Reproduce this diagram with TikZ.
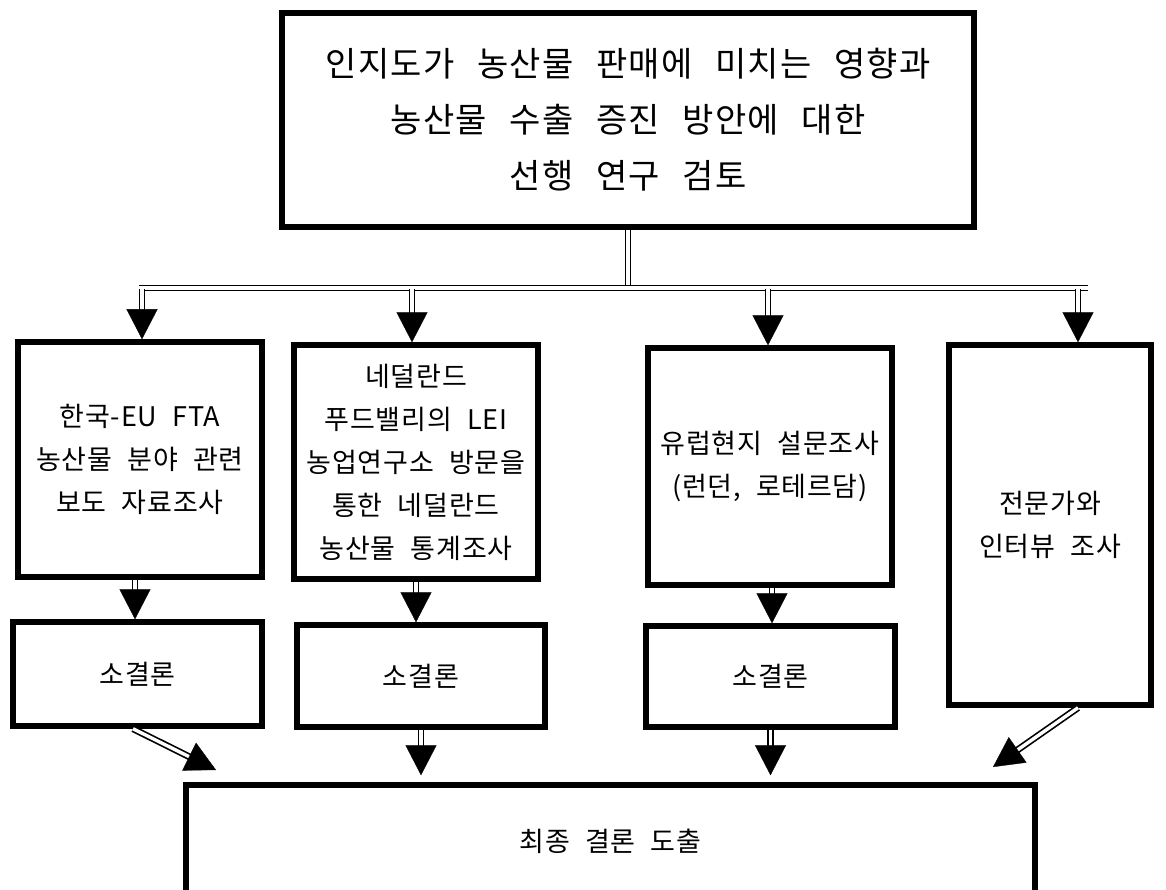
\documentclass[tikz,border=0pt]{standalone}
\usepackage{fontspec}
\usetikzlibrary{arrows.meta,calc}
\newfontfamily\krbox[WordSpace=2.2,LetterSpace=3]{Noto Sans CJK KR}
\newfontfamily\krtop[WordSpace=2.5,LetterSpace=4]{Noto Sans CJK KR}
\newcommand\boxfont{\krbox\fontsize{27}{43}\selectfont}
\newcommand\topfont{\krtop\fontsize{34}{56}\selectfont}
\tikzset{
  box/.style={draw=black, line width=5.5pt, align=center, inner sep=0pt, font=\boxfont},
  dbl/.style={draw=black, double=white, double distance=3.4pt, line width=1.7pt},
  headonly/.style={draw=white, line width=0.3pt, -{Triangle[width=31pt,length=30pt,color=black,fill=black]}},
}
\newcommand\darrow[2]{\draw[dbl, shorten >=27pt] #1 -- #2; \draw[headonly] #1 -- #2;}
\begin{document}
\begin{tikzpicture}[x=1pt,y=-1pt]
\useasboundingbox (0,0) rectangle (1166,890);
\fill[white] (0,0) rectangle (1166,890);

% boxes
\node[box, font=\topfont, minimum width=692pt, minimum height=214pt] (top) at (628,120)
  {인지도가 농산물 판매에 미치는 영향과\\농산물 수출 증진 방안에 대한\\선행 연구 검토};
\node[box, minimum width=244pt, minimum height=235pt] (b1) at (140,459.5)
  {한국-EU FTA\\농산물 분야 관련\\보도 자료조사};
\node[box, minimum width=244pt, minimum height=234pt] (b2) at (416,462)
  {네덜란드\\푸드밸리의 LEI\\농업연구소 방문을\\통한 네덜란드\\농산물 통계조사};
\node[box, minimum width=244pt, minimum height=237pt] (b3) at (770,466.5)
  {유럽현지 설문조사\\(런던, 로테르담)};
\node[box, minimum width=202pt, minimum height=360pt] (b4) at (1050,525)
  {전문가와\\인터뷰 조사};
\node[box, minimum width=249pt, minimum height=104pt] (s1) at (137.5,674) {소결론};
\node[box, minimum width=248pt, minimum height=102pt] (s2) at (421,676) {소결론};
\node[box, minimum width=249pt, minimum height=101pt] (s3) at (770.5,676.5) {소결론};
\node[box, minimum width=849pt, minimum height=112pt] (fin) at (610.5,841) {최종 결론 도출};

% bus
\coordinate (J) at (628,288);
\coordinate (BL) at (139,288);
\coordinate (BR) at (1088,288);
\coordinate (S1) at (142,289.5);
\coordinate (S2) at (412,289.5);
\coordinate (S3) at (768,289.5);
\coordinate (S4) at (1078,289.5);
\draw[dbl] (top.south) -- (J);
\draw[dbl] (BL) -- (BR);
\darrow{(S1)}{(S1 |- b1.north)}
\darrow{(S2)}{(S2 |- b2.north)}
\darrow{(S3)}{(S3 |- b3.north)}
\darrow{(S4)}{(S4 |- b4.north)}

% to sub conclusions
\darrow{([xshift=-5pt]b1.south)}{([xshift=-5pt]b1.south |- s1.north)}
\darrow{(b2.south)}{(b2.south |- s2.north)}
\darrow{([xshift=2pt]b3.south)}{([xshift=2pt]b3.south |- s3.north)}

% to final
\coordinate (F1) at (216,770);
\coordinate (F4) at (993,767);
\darrow{([xshift=-4.5pt]s1.south)}{(F1)}
\darrow{(s2.south)}{([yshift=7pt]s2.south |- fin.north)}
\darrow{(s3.south)}{([yshift=7pt]s3.south |- fin.north)}
\darrow{(b4.south -| {(1078,0)})}{(F4)}
\end{tikzpicture}
\end{document}
